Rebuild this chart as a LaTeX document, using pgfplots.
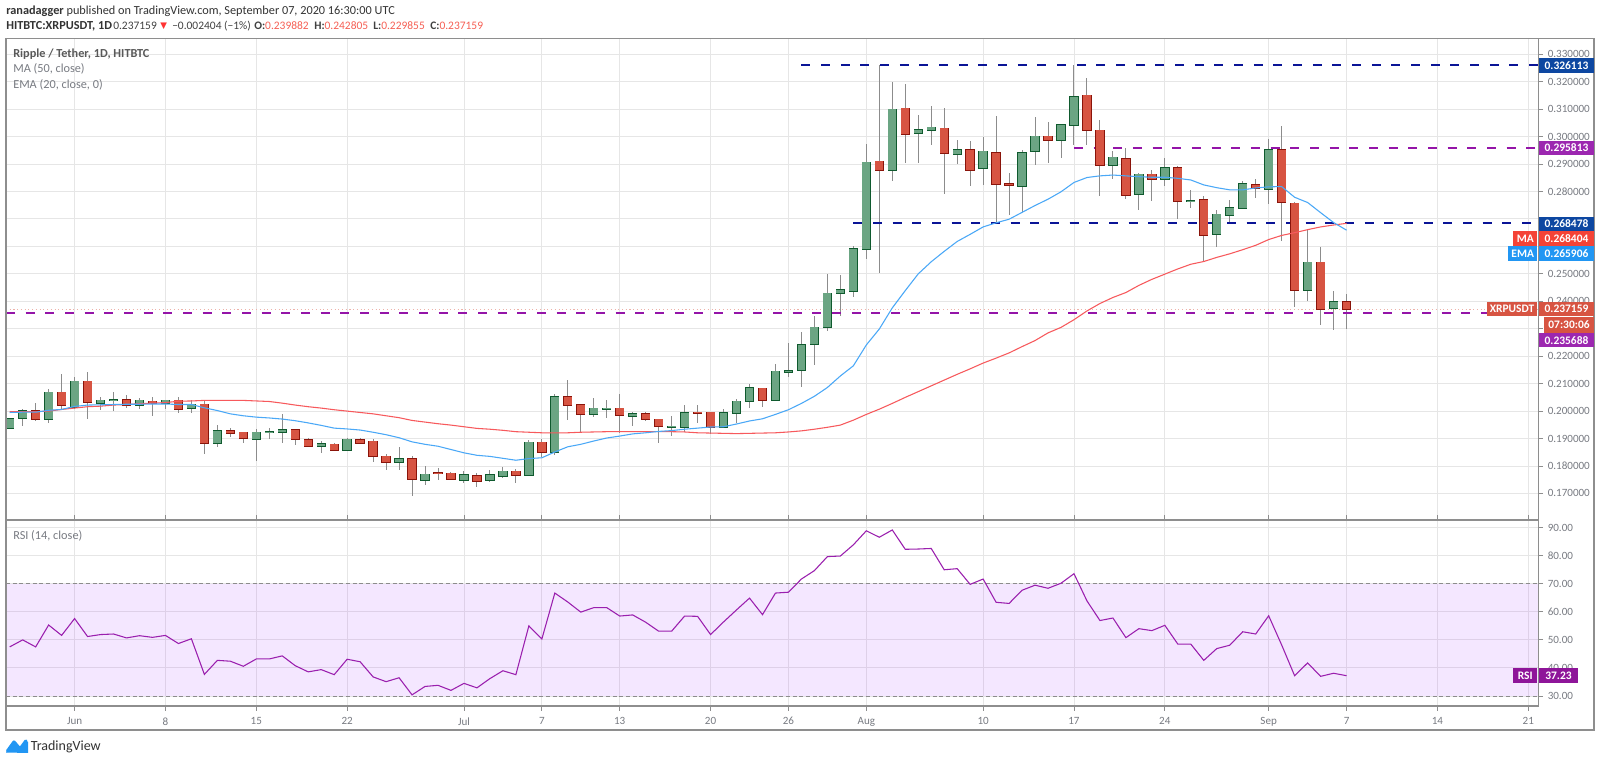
\documentclass[border=0pt]{standalone}
\usepackage{fontspec}
\usepackage{pgfplots}
\usepackage{pgfplotstable}
\pgfplotsset{compat=1.18}
\setmainfont{Carlito}
\newfontfamily\symfont{DejaVu Sans}

\definecolor{upfill}{HTML}{6BA583}
\definecolor{upline}{HTML}{0F5A2E}
\definecolor{dnfill}{HTML}{D75442}
\definecolor{dnline}{HTML}{8A140A}
\definecolor{wickc}{HTML}{8C8C8C}
\definecolor{gridc}{HTML}{E6E6E6}
\definecolor{framec}{HTML}{8E8E8E}
\definecolor{macol}{HTML}{F7595C}
\definecolor{emacol}{HTML}{4AA8F7}
\definecolor{navyl}{HTML}{0A1496}
\definecolor{purpl}{HTML}{9414A8}
\definecolor{navytag}{HTML}{0D47A1}
\definecolor{purptag}{HTML}{9C27B0}
\definecolor{matag}{HTML}{F44336}
\definecolor{ematag}{HTML}{2196F3}
\definecolor{rsicol}{HTML}{9A1FAE}
\definecolor{rsiband}{HTML}{9915FF}
\definecolor{rsitag}{HTML}{8E1599}
\definecolor{labc}{HTML}{787B82}

% day number counted from Jun 1
\pgfplotstableread{
d o h l c
-5 .1937 .1973 .1937 .1973
-4 .1976 .2006 .1947 .2002
-2 .1973 .2080 .1957 .2068
0 .2016 .2123 .2006 .2108
2 .2029 .2051 .2005 .2039
3 .2039 .2069 .1999 .2042
5 .2024 .2047 .2007 .2039
7 .2031 .2041 .2007 .2039
9 .2012 .2039 .1993 .2025
11 .1883 .1949 .1868 .1929
14 .1900 .1936 .1820 .1923
15 .1923 .1938 .1899 .1925
16 .1925 .1988 .1882 .1932
19 .1873 .1891 .1849 .1880
21 .1860 .1902 .1859 .1897
25 .1815 .1868 .1785 .1825
27 .1748 .1799 .1732 .1770
30 .1750 .1783 .1739 .1767
32 .1750 .1786 .1743 .1767
33 .1763 .1797 .1757 .1780
35 .1769 .1895 .1762 .1886
37 .1850 .2063 .1839 .2052
40 .1990 .2047 .1978 .2010
41 .2008 .2039 .1975 .2010
43 .1983 .1998 .1947 .1990
46 .1943 .1982 .1911 .1944
47 .1943 .2021 .1925 .1993
50 .1943 .2006 .1937 .1993
51 .1993 .2043 .1958 .2035
52 .2035 .2100 .2012 .2085
54 .2039 .2173 .2035 .2145
55 .2143 .2248 .2124 .2147
56 .2151 .2290 .2089 .2242
57 .2246 .2348 .2169 .2305
58 .2305 .2501 .2291 .2429
59 .2432 .2495 .2345 .2442
60 .2438 .2603 .2415 .2592
61 .2590 .2973 .2554 .2906
63 .2880 .3200 .2837 .3099
65 .3014 .3077 .2905 .3024
66 .3023 .3110 .2969 .3034
68 .2938 .2986 .2900 .2953
70 .2884 .2997 .2823 .2946
73 .2821 .2953 .2724 .2942
74 .2946 .3070 .2895 .3001
76 .2987 .3046 .2922 .3043
77 .3043 .3262 .2969 .3144
80 .2897 .2948 .2845 .2924
82 .2792 .2869 .2733 .2862
84 .2847 .2921 .2820 .2887
86 .2766 .2807 .2739 .2767
88 .2645 .2732 .2599 .2717
89 .2713 .2769 .2682 .2740
90 .2739 .2840 .2735 .2829
92 .2808 .2991 .2756 .2953
95 .2442 .2662 .2402 .2542
97 .2374 .2437 .2295 .2398
}\upcandles

\pgfplotstableread{
d o h l c
-3 .2002 .2028 .1964 .1973
-1 .2068 .2134 .2004 .2023
1 .2108 .2144 .1972 .2033
4 .2042 .2057 .2011 .2024
6 .2035 .2051 .1983 .2031
8 .2039 .2051 .1993 .2008
10 .2025 .2039 .1845 .1883
12 .1929 .1937 .1907 .1921
13 .1923 .1925 .1884 .1902
17 .1932 .1935 .1878 .1900
18 .1896 .1903 .1868 .1873
20 .1879 .1884 .1856 .1860
22 .1896 .1902 .1884 .1885
23 .1890 .1900 .1814 .1835
24 .1835 .1843 .1787 .1815
26 .1825 .1836 .1691 .1751
28 .1774 .1793 .1750 .1773
29 .1773 .1778 .1751 .1754
31 .1763 .1774 .1723 .1746
34 .1780 .1790 .1737 .1769
36 .1886 .1899 .1831 .1850
38 .2052 .2115 .1966 .2023
39 .2023 .2025 .1923 .1990
42 .2010 .2063 .1920 .1987
44 .1990 .1998 .1964 .1971
45 .1970 .1972 .1883 .1944
48 .1996 .2021 .1958 .1994
49 .1996 .1998 .1918 .1943
53 .2083 .2085 .2016 .2039
62 .2910 .3261 .2504 .2880
64 .3103 .3191 .2905 .3010
67 .3030 .3103 .2792 .2942
69 .2952 .2983 .2821 .2880
71 .2942 .3074 .2686 .2828
72 .2828 .2868 .2716 .2825
75 .3001 .3054 .2905 .2987
78 .3150 .3213 .2969 .3024
79 .3023 .3061 .2784 .2897
81 .2920 .2960 .2772 .2789
83 .2862 .2880 .2766 .2847
85 .2885 .2894 .2701 .2764
87 .2769 .2784 .2543 .2643
91 .2825 .2846 .2778 .2812
93 .2953 .3039 .2621 .2760
94 .2757 .2763 .2378 .2441
96 .2542 .2599 .2314 .2372
98 .239882 .242805 .229855 .237159
}\downcandles

\pgfplotstableread{
d ma ema rsi
-5 .1998 .1995 47.5
-4 .1998 .1996 50.0
-3 .1998 .1996 47.5
-2 .2000 .2003 55.3
-1 .2006 .2006 51.6
0 .2011 .2017 57.6
1 .2016 .2022 51.2
2 .2018 .2023 51.9
3 .2022 .2024 52.1
4 .2024 .2025 50.7
5 .2027 .2025 51.5
6 .2029 .2026 50.9
7 .2031 .2026 51.6
8 .2036 .2024 48.7
9 .2037 .2024 50.4
10 .2039 .2012 37.7
11 .2039 .2002 42.7
12 .2039 .1990 42.4
13 .2039 .1983 40.6
14 .2037 .1978 43.2
15 .2035 .1975 43.2
16 .2029 .1971 44.3
17 .2022 .1965 40.8
18 .2016 .1957 38.6
19 .2011 .1948 39.4
20 .2005 .1938 37.6
21 .2000 .1935 43.1
22 .1995 .1931 42.2
23 .1990 .1923 36.8
24 .1983 .1914 35.1
25 .1976 .1903 36.5
26 .1966 .1888 30.4
27 .1960 .1879 33.4
28 .1954 .1872 33.8
29 .1949 .1860 32.0
30 .1943 .1848 34.5
31 .1937 .1839 32.9
32 .1934 .1835 36.2
33 .1930 .1828 39.0
34 .1925 .1821 37.6
35 .1923 .1827 55.0
36 .1921 .1830 50.3
37 .1921 .1851 66.7
38 .1921 .1870 63.5
39 .1923 .1879 59.9
40 .1924 .1891 61.5
41 .1925 .1902 61.5
42 .1925 .1909 58.5
43 .1925 .1917 58.9
44 .1925 .1921 56.3
45 .1925 .1926 53.1
46 .1925 .1929 53.1
47 .1924 .1934 58.5
48 .1921 .1938 58.4
49 .1920 .1942 51.9
50 .1919 .1943 56.4
51 .1918 .1953 60.7
52 .1919 .1964 64.9
53 .1920 .1972 59.0
54 .1921 .1988 66.7
55 .1924 .2005 67.0
56 .1928 .2028 71.7
57 .1934 .2054 74.7
58 .1941 .2086 79.7
59 .1949 .2128 79.9
60 .1967 .2165 83.9
61 .1988 .2241 88.9
62 .2007 .2299 86.6
63 .2028 .2376 89.2
64 .2050 .2439 82.3
65 .2071 .2500 82.4
66 .2092 .2544 82.6
67 .2113 .2582 75.0
68 .2134 .2618 75.4
69 .2154 .2644 69.8
70 .2175 .2671 71.7
71 .2193 .2686 63.4
72 .2212 .2699 63.0
73 .2235 .2724 67.7
74 .2257 .2749 69.5
75 .2285 .2772 68.4
76 .2305 .2799 70.2
77 .2333 .2833 73.6
78 .2365 .2851 63.9
79 .2392 .2857 56.9
80 .2414 .2860 57.8
81 .2432 .2857 50.8
82 .2458 .2854 54.0
83 .2480 .2852 53.3
84 .2499 .2852 55.2
85 .2518 .2848 48.5
86 .2535 .2842 48.5
87 .2545 .2824 42.7
88 .2560 .2814 46.9
89 .2573 .2806 48.1
90 .2588 .2806 52.9
91 .2604 .2813 52.1
92 .2625 .2817 58.6
93 .2640 .2818 48.2
94 .2650 .2779 37.2
95 .2661 .2760 41.8
96 .2671 .2723 37.0
97 .2678 .2687 38.1
98 .268404 .265906 37.23
}\lines

\pgfplotsset{
  pane/.style={
    scale only axis, anchor=south west,
    xmin=-5.285, xmax=112.77,
    xtick={0,7,14,21,30,36,42,49,55,61,70,77,84,92,98,105,112},
    xmajorgrids, ymajorgrids,
    grid style={draw=gridc, line width=.7pt},
    axis line style={draw=framec, line width=.9pt},
    tick style={draw=framec, line width=.6pt},
    tick align=outside, major tick length=3.6pt,
    ytick pos=right, yticklabel pos=right,
    scaled y ticks=false,
    tick label style={font=\fontsize{8.3}{10}\selectfont, text=labc},
    clip=true,
  },
  bar/.style args={#1/#2}{forget plot, draw=none, no markers,
    error bars/.cd, y dir=both, y explicit, error mark=none,
    error bar style={draw=#1, line width=#2, solid}},
  level/.style={line width=1pt, dash pattern=on 6.75pt off 8pt, no markers, forget plot},
}

\begin{document}
\begin{tikzpicture}
\path[use as bounding box, fill=white] (0,0) rectangle (1200pt,572.25pt);

% price pane
\begin{axis}[pane, at={(4.5pt,182.25pt)}, width=1149.2pt, height=361.25pt,
  ymin=.16033, ymax=.33581,
  ytick={.17,.18,.19,.20,.21,.22,.23,.24,.25,.26,.27,.28,.29,.30,.31,.32,.33},
  yticklabels={0.170000,0.180000,0.190000,0.200000,0.210000,0.220000,,0.240000,0.250000,,,0.280000,0.290000,0.300000,0.310000,0.320000,0.330000},
  xticklabels={}, xtick style={draw=none},
]
\addplot[line width=.8pt, dotted, color=dnfill!45, no markers, forget plot] coordinates {(-5.285,.237159) (112.77,.237159)};
\addplot[bar={wickc/.75pt}] table[x=d, y=o, y error plus expr=\thisrow{h}-\thisrow{o}, y error minus expr=\thisrow{o}-\thisrow{l}] {\upcandles};
\addplot[bar={wickc/.75pt}] table[x=d, y=o, y error plus expr=\thisrow{h}-\thisrow{o}, y error minus expr=\thisrow{o}-\thisrow{l}] {\downcandles};
\addplot[level, color=purpl] coordinates {(-5.285,.235688) (112.77,.235688)};
\addplot[level, color=navyl] coordinates {(56,.326113) (112.77,.326113)};
\addplot[level, color=purpl] coordinates {(77,.295813) (112.77,.295813)};
\addplot[level, color=navyl] coordinates {(60,.268478) (112.77,.268478)};
\addplot[bar={upline/7pt}] table[x=d, y=o, y error plus expr=\thisrow{c}-\thisrow{o}+.00025, y error minus expr=.00025] {\upcandles};
\addplot[bar={upfill/5.9pt}] table[x=d, y=o, y error plus expr=\thisrow{c}-\thisrow{o}, y error minus expr=0] {\upcandles};
\addplot[bar={dnline/7pt}] table[x=d, y=c, y error plus expr=\thisrow{o}-\thisrow{c}+.00025, y error minus expr=.00025] {\downcandles};
\addplot[bar={dnfill/5.9pt}] table[x=d, y=c, y error plus expr=\thisrow{o}-\thisrow{c}, y error minus expr=0] {\downcandles};
\addplot[color=macol, line width=.8pt, no markers, forget plot] table[x=d, y=ma] {\lines};
\addplot[color=emacol, line width=.8pt, no markers, forget plot] table[x=d, y=ema] {\lines};
\end{axis}

% RSI pane
\begin{axis}[pane, at={(4.5pt,42.75pt)}, width=1149.2pt, height=139.5pt,
  ymin=26.43, ymax=92.75,
  ytick={30,40,50,60,70,80,90},
  xticklabels={Jun,8,15,22,Jul,7,13,20,26,Aug,10,17,24,Sep,7,14,21},
  x tick label style={yshift=-1.5pt},
  y tick label style={/pgf/number format/.cd, fixed, fixed zerofill, precision=2, assume math mode=true},
]
\addplot[draw=none, fill=rsiband, fill opacity=.1, no markers, forget plot] coordinates {(-5.285,30) (112.77,30) (112.77,70) (-5.285,70)} -- cycle;
\addplot[color=black!45, line width=.6pt, dash pattern=on 3pt off 2pt, no markers, forget plot] coordinates {(-5.285,70) (112.77,70)};
\addplot[color=black!45, line width=.6pt, dash pattern=on 3pt off 2pt, no markers, forget plot] coordinates {(-5.285,30) (112.77,30)};
\addplot[color=rsicol, line width=.8pt, no markers, forget plot] table[x=d, y=rsi] {\lines};
\end{axis}

% header, frame, price tags in image pixels
\begin{scope}[x=.75pt, y=-.75pt, yshift=572.25pt]
\draw[framec, line width=.9pt] (6,38.3) rectangle (1594,730);
\newcommand\pricetag[6]{%
  \fill[#5] (#1,#2) rectangle (#3,#4);
  \node[text=white, font=\fontsize{8.6}{10}\bfseries\selectfont, inner sep=0pt] at ({(#1+#3)/2},{(#2+#4)/2}) {#6};}
\pricetag{1539}{58.3}{1594}{72.7}{navytag}{0.326113}
\pricetag{1539}{140.7}{1594}{155}{purptag}{0.295813}
\pricetag{1539}{216.7}{1594}{230.7}{navytag}{0.268478}
\pricetag{1539}{231}{1594}{245.7}{matag}{0.268404}
\pricetag{1513.3}{231}{1537.4}{245.7}{matag}{MA}
\pricetag{1539}{246}{1594}{260.7}{ematag}{0.265906}
\pricetag{1508}{246}{1537.4}{260.7}{ematag}{EMA}
\pricetag{1539}{301.7}{1594}{316}{dnfill}{0.237159}
\pricetag{1486.7}{301.7}{1537.4}{316}{dnfill}{XRPUSDT}
\pricetag{1544}{317}{1594}{332.7}{dnfill}{07:30:06}
\pricetag{1539}{333.3}{1594}{347.3}{purptag}{0.235688}
\pricetag{1539}{668.3}{1578}{683}{rsitag}{37.23}
\pricetag{1513}{668.3}{1537.4}{683}{rsitag}{RSI}

\tikzset{hd/.style={anchor=west, inner sep=0pt, text=black!80, font=\fontsize{9.2}{11}\selectfont},
  hr/.style={anchor=west, inner sep=0pt, text=black!75, font=\fontsize{8.6}{11}\selectfont},
  lg/.style={anchor=west, inner sep=0pt, text=labc, font=\fontsize{9.2}{11}\selectfont}}
\node[hd] at (6,11) {\textbf{ranadagger} published on TradingView.com, September 07, 2020 16:30:00 UTC};
\node[hd] at (6,26) {\textbf{HITBTC:XRPUSDT, 1D}};
\node[hr] at (113,26) {0.237159};
\node[hr, text=red!80, font=\symfont\fontsize{6.5}{9}\selectfont] at (160,26) {▼};
\node[hr] at (172,26) {−0.002404 (−1\%)};
\node[hr] at (254,26) {\textbf{O:}\textcolor{matag!85}{0.239882}};
\node[hr] at (314,26) {\textbf{H:}\textcolor{matag!85}{0.242805}};
\node[hr] at (373,26) {\textbf{L:}\textcolor{matag!85}{0.229855}};
\node[hr] at (430,26) {\textbf{C:}\textcolor{matag!85}{0.237159}};
\node[lg, text=black!65] at (13,54) {\textbf{Ripple / Tether, 1D, HITBTC}};
\node[lg] at (13,69) {MA (50, close)};
\node[lg] at (13,85) {EMA (20, close, 0)};
\node[lg] at (13,535.7) {RSI (14, close)};

% logo
\draw[ematag, line width=2.4pt, line join=round, line cap=round] (7.5,751) -- (14,742) -- (20,749) -- (26,741);
\fill[ematag] (6,752.5) -- (14,741) -- (20,748) -- (25,740) -- (28,742) -- (28,753) -- cycle;
\node[hd, font=\fontsize{10.5}{12}\selectfont] at (30.6,747) {TradingView};
\end{scope}
\end{tikzpicture}
\end{document}
